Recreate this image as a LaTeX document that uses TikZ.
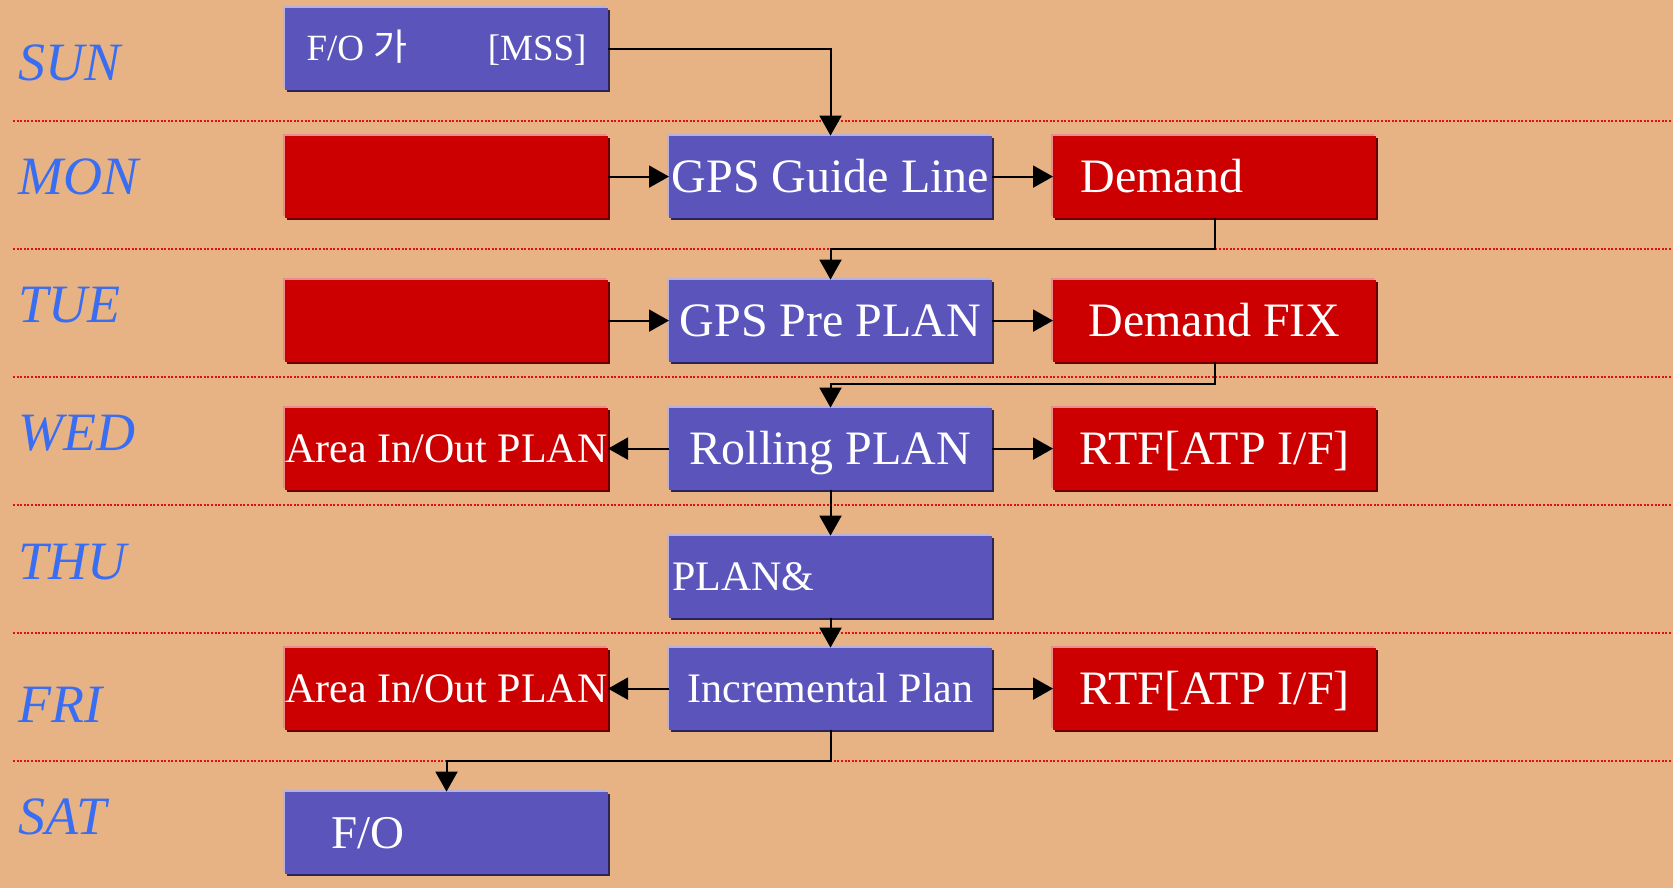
\documentclass[tikz,border=0pt]{standalone}
\usepackage{fontspec}
\setmainfont{Liberation Serif}
\newfontfamily\krfont{Noto Sans CJK KR}
\usepackage{tikz}
\usetikzlibrary{positioning,arrows.meta,shadows}
\usepackage{xcolor}

\definecolor{bgtan}{HTML}{E8B384}
\definecolor{boxblue}{HTML}{5B55BB}
\definecolor{boxred}{HTML}{CC0000}
\definecolor{dayblue}{HTML}{3A6EF2}
\definecolor{dotred}{HTML}{E01010}

\begin{document}
\begin{tikzpicture}[%
    x=1pt,
    y=1pt,
    >={Triangle[length=10pt,width=11pt]},
    node distance=30.5pt,
    conn/.style={%
      ->,
      line width=1pt
    },
    dotline/.style={%
      draw=dotred,
      line width=1pt,
      dash pattern=on 1pt off 0.8pt
    },
    daylabel/.style={%
      anchor=west,
      inner sep=0pt,
      text height=17.9pt,
      text depth=0pt,
      text=dayblue,
      font=\fontsize{27}{27}\selectfont\itshape
    },
    plainbox/.style={%
      rectangle,
      minimum width=161.5pt,
      minimum height=41pt,
      inner sep=0pt,
      outer sep=0pt,
      text=white,
      text height=15.9pt,
      text depth=0pt,
      font=\fontsize{24}{24}\selectfont
    },
    bluebox/.style={%
      plainbox,
      fill=boxblue,
      general shadow={fill=boxblue!45!white, shadow xshift=-0.8pt, shadow yshift=0.8pt},
      general shadow={fill=boxblue!45!black, shadow xshift=1.2pt, shadow yshift=-1.2pt}
    },
    redbox/.style={%
      plainbox,
      fill=boxred,
      general shadow={fill=boxred!45!white, shadow xshift=-0.8pt, shadow yshift=0.8pt},
      general shadow={fill=boxred!50!black, shadow xshift=1.2pt, shadow yshift=-1.2pt}
    },
    smalltext/.style={font=\fontsize{21}{21}\selectfont, text height=13.9pt}
  ]
    \fill[bgtan] (0,0) rectangle (836.5,-444);
    \useasboundingbox (0,0) rectangle (836.5,-444);

    % day rows
    \foreach \yy in {60.3,124.3,188.3,252.35,316.35,380.35}
      \draw[dotline] (6.5,-\yy) -- (836.5,-\yy);

    \node[daylabel] (sun) at (9,-31.25)  {SUN};
    \node[daylabel] (mon) at (9,-88.35)  {MON};
    \node[daylabel] (tue) at (9,-152.5)  {TUE};
    \node[daylabel] (wed) at (9,-216.5)  {WED};
    \node[daylabel] (thu) at (9,-281)    {THU};
    \node[daylabel] (fri) at (9,-352.5)  {FRI};
    \node[daylabel] (sat) at (9,-408.5)  {SAT};

    % boxes
    \node[bluebox] (guide) at (415.25,-88.3)       {GPS Guide Line};
    \node[redbox] (monsrc) [left=of guide]         {};
    \node[redbox] (demand) [right=of guide]        {\makebox[134pt][l]{Demand}};
    \node[bluebox, font=\fontsize{18.5}{18.5}\selectfont, text height=12.25pt] (mss) [above=23pt of monsrc]
      {\makebox[140pt]{F/O {\krfont 가}\hfill[MSS]}};
    \node[bluebox] (preplan) [below=31pt of guide] {GPS Pre PLAN};
    \node[redbox] (tuesrc) [left=of preplan]       {};
    \node[redbox] (fix) [right=of preplan]         {Demand FIX};
    \node[bluebox] (rolling) [below=23pt of preplan] {Rolling PLAN};
    \node[redbox, smalltext] (wedarea) [left=of rolling] {Area In/Out PLAN};
    \node[redbox] (wedrtf) [right=of rolling]      {RTF[ATP I/F]};
    \node[bluebox, smalltext] (check) [below=23pt of rolling] {\makebox[158.5pt][l]{PLAN\&}};
    \node[bluebox, smalltext] (incr) [below=15pt of check] {Incremental Plan};
    \node[redbox, smalltext] (friarea) [left=of incr] {Area In/Out PLAN};
    \node[redbox] (frirtf) [right=of incr]         {RTF[ATP I/F]};
    \node[bluebox, font=\fontsize{23.5}{23.5}\selectfont, text height=15.56pt] (fo) [below=31pt of friarea]
      {\makebox[115.5pt][l]{F/O}};

    % connectors
    \draw[conn] (mss.east) -| (guide.north);
    \draw[conn] (monsrc.east) -- (guide.west);
    \draw[conn] (guide.east) -- (demand.west);
    \draw[conn] (demand.south) -- ++(0,-15.45) -| (preplan.north);
    \draw[conn] (tuesrc.east) -- (preplan.west);
    \draw[conn] (preplan.east) -- (fix.west);
    \draw[conn] (fix.south) -- ++(0,-11.15) -| (rolling.north);
    \draw[conn] (rolling.west) -- (wedarea.east);
    \draw[conn] (rolling.east) -- (wedrtf.west);
    \draw[conn] (rolling.south) -- (check.north);
    \draw[conn] (check.south) -- (incr.north);
    \draw[conn] (incr.west) -- (friarea.east);
    \draw[conn] (incr.east) -- (frirtf.west);
    \draw[conn] (incr.south) -- ++(0,-15.5) -| (fo.north);
\end{tikzpicture}
\end{document}
